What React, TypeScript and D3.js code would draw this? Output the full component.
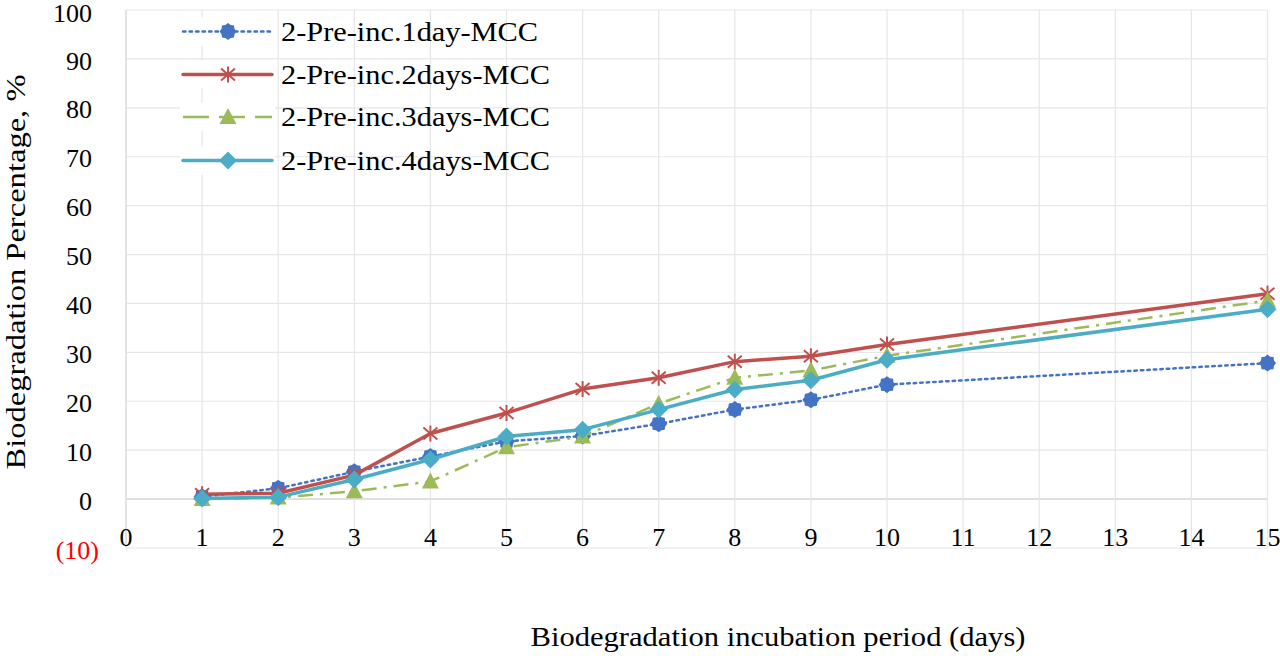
import * as React from 'react'
import * as d3 from 'd3'

// days on the x axis
const days = [1, 2, 3, 4, 5, 6, 7, 8, 9, 10, 15]

// biodegradation %
const pre1day = [0.5, 2.2, 5.6, 8.7, 11.8, 12.9, 15.4, 18.3, 20.3, 23.4, 27.8]
const pre2days = [1.0, 1.2, 4.9, 13.4, 17.6, 22.5, 24.8, 28.1, 29.2, 31.6, 42.0]
const pre3days = [0.0, 0.3, 1.6, 3.6, 10.6, 12.8, 19.5, 24.8, 26.3, 29.3, 40.6]
const pre4days = [0.1, 0.4, 4.0, 8.1, 12.8, 14.2, 18.3, 22.4, 24.3, 28.5, 38.8]

const seriesNames = [
  '2-Pre-inc.1day-MCC',
  '2-Pre-inc.2days-MCC',
  '2-Pre-inc.3days-MCC',
  '2-Pre-inc.4days-MCC',
]

const yTicks = [-10, 0, 10, 20, 30, 40, 50, 60, 70, 80, 90, 100]
const xTicks = [0, 1, 2, 3, 4, 5, 6, 7, 8, 9, 10, 11, 12, 13, 14, 15]

const W = 1280
const H = 656
const left = 126
const right = 1267.5
const top = 10
const bottom = 548

const FONT = '"Liberation Serif", "Times New Roman", serif'

type MarkerKind = 'gear' | 'asterisk' | 'triangle' | 'diamond'

interface Style {
  color: string
  width: number
  dash?: string
  cap: 'round' | 'butt'
  marker: MarkerKind
  legendWidth: number
}

const styles: Style[] = [
  { color: '#4472C4', width: 2.5, dash: '2.5,4', cap: 'round', marker: 'gear', legendWidth: 257 },
  { color: '#C0504D', width: 3.5, cap: 'round', marker: 'asterisk', legendWidth: 269 },
  { color: '#9BBB59', width: 2.5, dash: '15,7,3,7', cap: 'butt', marker: 'triangle', legendWidth: 269 },
  { color: '#4BACC6', width: 3.5, cap: 'round', marker: 'diamond', legendWidth: 269 },
]

const gearPath = (() => {
  const pts: [number, number][] = []
  const n = 16
  for (let i = 0; i < n; i++) {
    const r = i % 2 === 0 ? 8.5 : 7
    const a = (i / n) * Math.PI * 2
    pts.push([Math.cos(a) * r, Math.sin(a) * r])
  }
  return 'M' + pts.map(p => p.join(',')).join('L') + 'Z'
})()

function Marker({ kind, color, cx, cy }: { kind: MarkerKind; color: string; cx: number; cy: number }) {
  const t = `translate(${cx},${cy})`
  if (kind === 'gear') return <path d={gearPath} transform={t} fill={color} />
  if (kind === 'asterisk')
    return (
      <g transform={t} stroke={color} strokeWidth={2}>
        <line x1={0} y1={-8} x2={0} y2={8} />
        <line x1={-7} y1={-6} x2={7} y2={6} />
        <line x1={-7} y1={6} x2={7} y2={-6} />
      </g>
    )
  if (kind === 'triangle') return <path d="M0,-9L8.5,7L-8.5,7Z" transform={t} fill={color} />
  return <path d="M0,-9L9,0L0,9L-9,0Z" transform={t} fill={color} />
}

export default function App() {
  const x = d3.scaleLinear().domain([0, 15]).range([left, right])
  const y = d3.scaleLinear().domain([-10, 100]).range([bottom, top])

  const allSeries = [pre1day, pre2days, pre3days, pre4days]
  const line = d3
    .line<number>()
    .x((_, i) => x(days[i]))
    .y(d => y(d))

  const legendRows = [31.5, 74.5, 117, 160.5]

  return (
    <div style={{ position: 'absolute', left: 0, top: 0 }}>
      <svg width={W} height={H} style={{ display: 'block', background: '#fff' }} fontFamily={FONT}>
        {/* grid */}
        <g>
          {yTicks.map(t => (
            <line key={'gy' + t} x1={left} x2={right} y1={y(t)} y2={y(t)}
              stroke={t === 0 ? '#D4D4D4' : '#E6E6E6'} strokeWidth={t === 0 ? 1.5 : 1.2} />
          ))}
          {xTicks.map(t => (
            <line key={'gx' + t} x1={x(t)} x2={x(t)} y1={top} y2={bottom}
              stroke={t === 0 ? '#DADADA' : '#E6E6E6'} strokeWidth={t === 0 ? 1.5 : 1.2} />
          ))}
        </g>

        {/* y tick labels */}
        <g fontSize={26}>
          {yTicks.map(t => (
            <text key={'ly' + t} x={t < 0 ? 99 : 92} y={y(t) + (t === 100 ? 3 : 1.5)} dy="0.35em"
              textAnchor="end" fill={t < 0 ? '#FF0000' : '#000'}>
              {t < 0 ? `(${Math.abs(t)})` : t}
            </text>
          ))}
        </g>

        {/* x tick labels */}
        <g fontSize={26}>
          {xTicks.map(t => (
            <text key={'lx' + t} x={x(t)} y={537} dy="0.35em" textAnchor="middle">
              {t}
            </text>
          ))}
        </g>

        {/* series */}
        {allSeries.map((vals, si) => {
          const s = styles[si]
          return (
            <g key={'s' + si}>
              <path d={line(vals) || ''} fill="none" stroke={s.color} strokeWidth={s.width}
                strokeDasharray={s.dash} strokeLinecap={s.cap} strokeLinejoin="round" />
              {vals.map((v, i) => (
                <Marker key={i} kind={s.marker} color={s.color} cx={x(days[i])} cy={y(v)} />
              ))}
            </g>
          )
        })}

        {/* legend */}
        <g>
          {seriesNames.map((name, si) => {
            const s = styles[si]
            const ly = legendRows[si]
            return (
              <g key={'lg' + si}>
                <rect x={180} y={ly - 14} width={95} height={28} fill="#fff" />
                <line x1={183} x2={272} y1={ly} y2={ly} stroke={s.color} strokeWidth={s.width}
                  strokeDasharray={si === 2 ? '26,10' : s.dash} strokeLinecap={s.cap} />
                <Marker kind={s.marker} color={s.color} cx={228} cy={ly} />
                <text x={281} y={ly} dy="0.35em" fontSize={27} textLength={s.legendWidth}
                  lengthAdjust="spacingAndGlyphs">
                  {name}
                </text>
              </g>
            )
          })}
        </g>

        {/* axis titles */}
        <text transform="translate(25,272) rotate(-90)" textAnchor="middle" fontSize={28}
          textLength={395} lengthAdjust="spacingAndGlyphs">
          Biodegradation Percentage, %
        </text>
        <text x={778} y={637} dy="0.35em" textAnchor="middle" fontSize={27} textLength={495}
          lengthAdjust="spacingAndGlyphs">
          Biodegradation incubation period (days)
        </text>
      </svg>
    </div>
  )
}
